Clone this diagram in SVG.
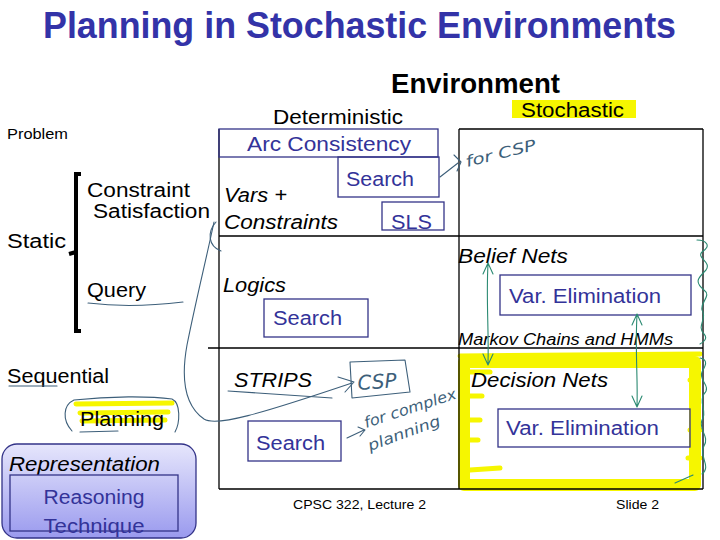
<svg xmlns="http://www.w3.org/2000/svg" width="720" height="540" viewBox="0 0 720 540">
  <defs>
    <linearGradient id="repGrad" x1="0" y1="0" x2="0" y2="1">
      <stop offset="0" stop-color="#e6e6fc"/>
      <stop offset="1" stop-color="#9a9aee"/>
    </linearGradient>
    <style>
      text { font-family: "Liberation Sans", Arial, sans-serif; }
      .title { font-size: 36px; font-weight: bold; fill: #3333a8; }
      .hdr { font-size: 27px; font-weight: bold; fill: #000; }
      .lbl { font-size: 20px; fill: #000; }
      .it { font-size: 20px; font-style: italic; fill: #000; }
      .nv { font-size: 20px; fill: #333399; }
      .small { font-size: 14px; fill: #000; }
      .foot { font-size: 13px; fill: #000; }
      .grid { fill: none; stroke: #000; stroke-width: 1.3; }
      .nbox { fill: none; stroke: #333388; stroke-width: 1.3; }
      .ink { fill: none; stroke: #3d5f7a; stroke-width: 1.1; stroke-linecap: round; stroke-linejoin: round; }
      .green { fill: none; stroke: #2b8a72; stroke-width: 1.1; stroke-linecap: round; stroke-linejoin: round; }
      .hand { font-family: "DejaVu Sans", sans-serif; font-style: italic; font-size: 15px; fill: #3d5f7a; font-weight: 200; }
      .yel { fill: none; stroke: #f6f600; stroke-linecap: round; stroke-linejoin: round; }
    </style>
  </defs>
  <rect width="720" height="540" fill="#fff"/>

  <!-- Title and headers -->
  <g id="title">
    <text class="title" x="43" y="38" textLength="633" lengthAdjust="spacingAndGlyphs">Planning in Stochastic Environments</text>
  </g>
  <g id="environment">
    <text class="hdr" x="391" y="93" textLength="169" lengthAdjust="spacingAndGlyphs">Environment</text>
  </g>
  <g id="deterministic">
    <text class="lbl" x="273" y="124" textLength="130" lengthAdjust="spacingAndGlyphs">Deterministic</text>
  </g>
  <g id="stochastic">
    <rect x="512" y="100" width="124" height="18" fill="#f6f600"/>
    <text class="lbl" x="521" y="117" textLength="103" lengthAdjust="spacingAndGlyphs">Stochastic</text>
  </g>
  <g id="problem">
    <text class="small" x="7" y="139" textLength="61" lengthAdjust="spacingAndGlyphs">Problem</text>
  </g>

  <!-- yellow highlight around Decision Nets cell -->
  <g id="decision-highlight">
    <rect class="yel" x="464" y="362" width="231" height="123" stroke-width="12"/>
    <path class="yel" d="M460,356 L700,354 M470,372 L490,372 M470,396 L482,396 M470,420 L480,420 M468,440 L478,440 M470,470 L500,468 M690,380 L696,380 M690,430 L700,430 M688,458 L700,458" stroke-width="5"/>
  </g>

  <!-- grid lines -->
  <g id="grid">
    <path class="grid" d="M219,129 L219,489 M459,129 L459,489 M703,129 L703,489 M459,129 L703,129 M219,236 L703,236 M208,348 L703,348 M219,489 L703,489"/>
  </g>

  <!-- left side row labels -->
  <g id="bracket">
    <path d="M81,174 L76,174 L76,331 L81,331 M76,252 L69,254" fill="none" stroke="#000" stroke-width="4"/>
  </g>
  <g id="constraint-satisfaction">
    <text class="lbl" x="87" y="197" textLength="103" lengthAdjust="spacingAndGlyphs">Constraint</text>
    <text class="lbl" x="93" y="218" textLength="117" lengthAdjust="spacingAndGlyphs">Satisfaction</text>
  </g>
  <g id="static">
    <text class="lbl" x="7" y="248" textLength="59" lengthAdjust="spacingAndGlyphs">Static</text>
  </g>
  <g id="query">
    <text class="lbl" x="87" y="297" textLength="59" lengthAdjust="spacingAndGlyphs">Query</text>
  </g>
  <g id="sequential">
    <text class="lbl" x="7" y="383" textLength="102" lengthAdjust="spacingAndGlyphs">Sequential</text>
  </g>
  <g id="planning">
    <path class="yel" d="M76,404 L172,403 M80,413 L168,412 M82,421 L165,420" stroke-width="5"/>
    <text class="lbl" x="80" y="426" textLength="84" lengthAdjust="spacingAndGlyphs">Planning</text>
  </g>

  <!-- legend -->
  <g id="representation">
    <rect x="2" y="444" width="194" height="94" rx="15" fill="url(#repGrad)" stroke="#333388" stroke-width="1.3"/>
    <text class="it" x="9" y="471" textLength="151" lengthAdjust="spacingAndGlyphs">Representation</text>
  </g>
  <g id="reasoning-technique">
    <rect class="nbox" x="10" y="475" width="168" height="56"/>
    <text class="nv" x="94" y="504" text-anchor="middle" textLength="101" lengthAdjust="spacingAndGlyphs">Reasoning</text>
    <text class="nv" x="94" y="533" text-anchor="middle" textLength="101" lengthAdjust="spacingAndGlyphs">Technique</text>
  </g>

  <!-- Deterministic / static CSP cell -->
  <g id="arc-consistency">
    <rect class="nbox" x="219" y="129" width="219" height="28"/>
    <text class="nv" x="247" y="151" textLength="164" lengthAdjust="spacingAndGlyphs">Arc Consistency</text>
  </g>
  <g id="search-csp">
    <rect class="nbox" x="338" y="157" width="101" height="40"/>
    <text class="nv" x="346" y="186" textLength="68" lengthAdjust="spacingAndGlyphs">Search</text>
  </g>
  <g id="sls">
    <rect class="nbox" x="382" y="202" width="62" height="28"/>
    <text class="nv" x="391" y="229" textLength="41" lengthAdjust="spacingAndGlyphs">SLS</text>
  </g>
  <g id="vars-constraints">
    <text class="it" x="224" y="202" textLength="63" lengthAdjust="spacingAndGlyphs">Vars +</text>
    <text class="it" x="224" y="229" textLength="114" lengthAdjust="spacingAndGlyphs">Constraints</text>
  </g>

  <!-- Query row -->
  <g id="logics">
    <text class="it" x="223" y="292" textLength="63" lengthAdjust="spacingAndGlyphs">Logics</text>
  </g>
  <g id="search-logics">
    <rect class="nbox" x="264" y="299" width="104" height="38"/>
    <text class="nv" x="273" y="325" textLength="69" lengthAdjust="spacingAndGlyphs">Search</text>
  </g>
  <g id="belief-nets">
    <text class="it" x="458" y="263" textLength="110" lengthAdjust="spacingAndGlyphs">Belief Nets</text>
  </g>
  <g id="var-elim-belief">
    <rect class="nbox" x="500" y="275" width="191" height="40"/>
    <text class="nv" x="509" y="303" textLength="152" lengthAdjust="spacingAndGlyphs">Var. Elimination</text>
  </g>
  <g id="markov">
    <text class="it" x="458" y="345" font-size="16" style="font-size:16px" textLength="215" lengthAdjust="spacingAndGlyphs">Markov Chains and HMMs</text>
  </g>

  <!-- Planning row -->
  <g id="strips">
    <text class="it" x="234" y="387" textLength="78" lengthAdjust="spacingAndGlyphs">STRIPS</text>
  </g>
  <g id="search-planning">
    <rect class="nbox" x="248" y="421" width="93" height="40"/>
    <text class="nv" x="256" y="450" textLength="69" lengthAdjust="spacingAndGlyphs">Search</text>
  </g>
  <g id="decision-nets">
    <text class="it" x="471" y="387" textLength="137" lengthAdjust="spacingAndGlyphs">Decision Nets</text>
  </g>
  <g id="var-elim-decision">
    <rect class="nbox" x="498" y="409" width="192" height="38"/>
    <text class="nv" x="506" y="435" textLength="153" lengthAdjust="spacingAndGlyphs">Var. Elimination</text>
  </g>

  <!-- handwritten CSP box -->
  <g id="csp-note">
    <path class="ink" d="M350,362 L405,360 L410,392 L352,398 Z"/>
    <text class="hand" x="358" y="390" font-size="20" style="font-size:20px" transform="rotate(-4 358 390)">CSP</text>
  </g>
  <g id="for-csp-note">
    <text class="hand" x="467" y="167" transform="rotate(-14 467 167)" textLength="72" lengthAdjust="spacingAndGlyphs">for CSP</text>
  </g>
  <g id="for-complex-note">
    <text class="hand" x="366" y="428" transform="rotate(-18 366 428)" textLength="96" lengthAdjust="spacingAndGlyphs">for complex</text>
    <text class="hand" x="370" y="451" transform="rotate(-20 370 451)" textLength="76" lengthAdjust="spacingAndGlyphs">planning</text>
  </g>

  <!-- connectors and handwritten marks -->
  <g id="connectors">
    <!-- Search -> for CSP -->
    <path class="ink" d="M440,177 L458,163 M454,155 L461,162 L457,171"/>
    <!-- Constraint Satisfaction -> CSP long curve -->
    <path class="ink" d="M214,222 C206,260 196,300 187,345 C181,378 184,405 204,419 C216,427 260,414 352,383"/>
    <path class="ink" d="M338,377 L354,382 L345,392"/>
    <path class="ink" d="M216,222 C207,232 208,246 221,251"/>
    <!-- Planning loop -->
    <path class="ink" d="M72,431 C62,420 63,405 74,400 C110,396 150,396 172,399 C181,403 180,423 175,432"/>
    <path class="ink" d="M80,432 L118,431"/>
    <!-- underlines -->
    <path class="ink" d="M88,303 C120,307 150,306 183,302"/>
    <path class="ink" d="M9,386 L57,386"/>
    <path class="ink" d="M228,391 C260,393 300,396 332,398"/>
    <!-- Search -> for complex planning -->
    <path class="ink" d="M347,438 L364,430 M358,427 L365,430 L360,436"/>
    <!-- green double arrows -->
    <path class="green" d="M488,264 C486,300 489,330 488,364 M483,274 L488,263 L493,274 M483,354 L488,365 L493,354"/>
    <path class="green" d="M637,315 C635,350 638,380 637,406 M632,325 L637,314 L642,325 M632,396 L637,407 L642,396"/>
    <!-- wavy right edge -->
    <path class="green" d="M697,240 C706,240 712,246 702,252 C696,258 712,262 706,270 C698,278 694,282 704,290 C712,296 700,302 702,310 C708,318 696,326 704,334 C708,338 704,342 700,344"/>
    <path class="green" d="M700,358 C710,360 704,368 702,372 C698,380 712,386 704,394 C698,402 708,412 702,420 C698,430 710,436 704,446 C698,456 712,466 702,474"/>
    <path class="green" d="M675,483 L693,475"/>
  </g>

  <!-- footer -->
  <g id="footer">
    <text class="foot" x="293" y="509" textLength="133" lengthAdjust="spacingAndGlyphs">CPSC 322, Lecture 2</text>
    <text class="foot" x="616" y="509" textLength="43" lengthAdjust="spacingAndGlyphs">Slide 2</text>
  </g>
</svg>
